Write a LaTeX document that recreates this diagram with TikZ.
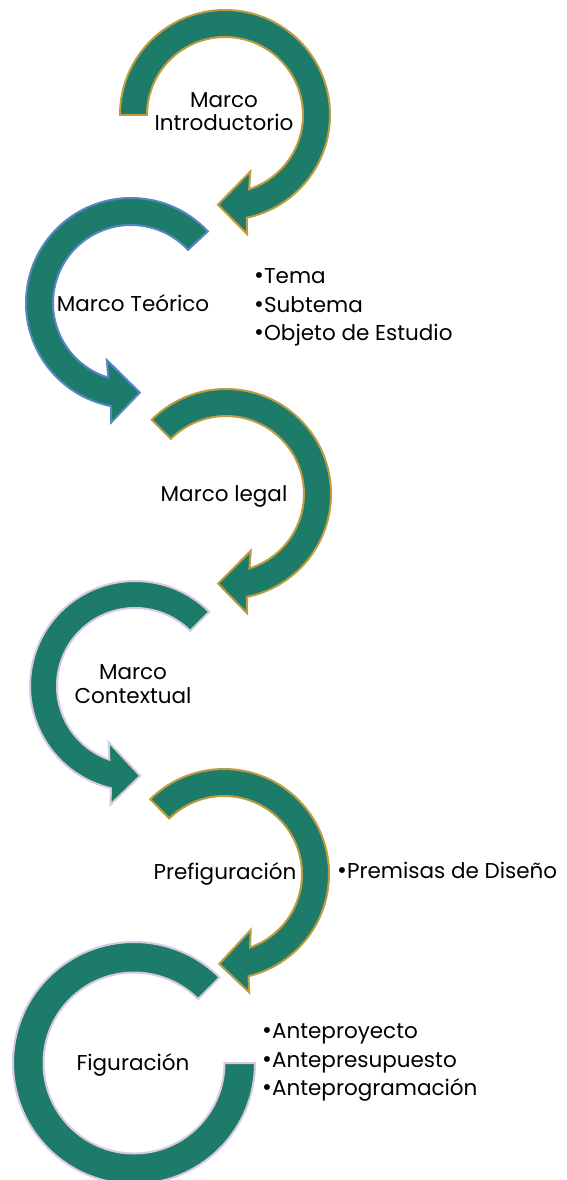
\documentclass[tikz,border=0pt]{standalone}
\usepackage{fontspec}
\setmainfont{Poppins}
\definecolor{teal}{RGB}{29,123,106}
\definecolor{gold}{RGB}{190,155,64}
\definecolor{bluel}{RGB}{86,134,196}
\definecolor{lav}{RGB}{216,200,224}
\newcommand{\circArrow}[5]{% #1 outline colour, #2 centre, #3 tail angle, #4 tip angle, #5 sign (+1 ccw, -1 cw)
  \pgfmathsetmacro\aob{#4-#5*16.5}
  \pgfmathsetmacro\aib{#4-#5*22.5}
  \pgfmathsetmacro\aobb{#4-#5*15}
  \pgfmathsetmacro\aibb{#4-#5*28.5}
  \begin{scope}[shift={(#2)}]
    \draw[arrowshape,draw=#1] (#3:105) arc[start angle=#3, end angle=\aob, radius=105]
      -- (\aobb:121) -- (#4:90) -- (\aibb:62) -- (\aib:78)
      arc[start angle=\aib, end angle=#3, radius=78] -- cycle;
  \end{scope}}
\newcommand{\bigbul}{{\fontsize{24}{24}\selectfont•}}
\tikzset{
  arrowshape/.style={fill=teal, line width=2pt, line join=miter},
  lbl/.style={font=\fontsize{21.5}{22}\selectfont, anchor=base, inner sep=0pt},
  bul/.style={font=\fontsize{21.5}{22}\selectfont, anchor=base west, inner sep=0pt}
}
\begin{document}
\begin{tikzpicture}[x=1pt,y=1pt]
\useasboundingbox (0,0) rectangle (566,-1180);
\fill[white] (0,0) rectangle (566,-1180);
\coordinate (c1) at (225,-115);
\coordinate (c2) at (131,-303);
\coordinate (c3) at (226,-494);
\coordinate (c4) at (135,-686);
\coordinate (c5) at (224,-874);
\coordinate (c6) at (134,-1063);
\circArrow{gold}{c1}{180}{-94.5}{-1}
\circArrow{bluel}{c2}{43}{275.6}{1}
\circArrow{gold}{c3}{135}{-95}{-1}
\circArrow{lav}{c4}{45}{273.3}{1}
\circArrow{gold}{c5}{134.6}{-93}{-1}
\begin{scope}[shift={(c6)}]
  \draw[arrowshape,draw=lav] (45:121) arc[start angle=45, end angle=360, radius=121]
    -- (360:90.5) arc[start angle=360, end angle=45, radius=90.5] -- cycle;
\end{scope}
\node[lbl] (t1a) at (224,-108) {Marco};
\node[lbl] (t1b) at (224,-131) {Introductorio};
\node[lbl] (t2) at (133,-311) {Marco Teórico};
\node[lbl] (t3) at (224,-501) {Marco legal};
\node[lbl] (t4a) at (133,-679) {Marco};
\node[lbl] (t4b) at (133,-703) {Contextual};
\node[lbl] (t5) at (225,-879) {Prefiguración};
\node[lbl] (t6) at (133,-1070) {Figuración};
\node[bul] (b1) at (254,-283) {\bigbul Tema};
\node[bul] (b2) at (254,-312) {\bigbul Subtema};
\node[bul] (b3) at (254,-340) {\bigbul Objeto de Estudio};
\node[bul] (b4) at (337,-878) {\bigbul Premisas de Diseño};
\node[bul] (b5) at (262,-1038) {\bigbul Anteproyecto};
\node[bul] (b6) at (262,-1067) {\bigbul Antepresupuesto};
\node[bul] (b7) at (262,-1095) {\bigbul Anteprogramación};
\end{tikzpicture}
\end{document}
